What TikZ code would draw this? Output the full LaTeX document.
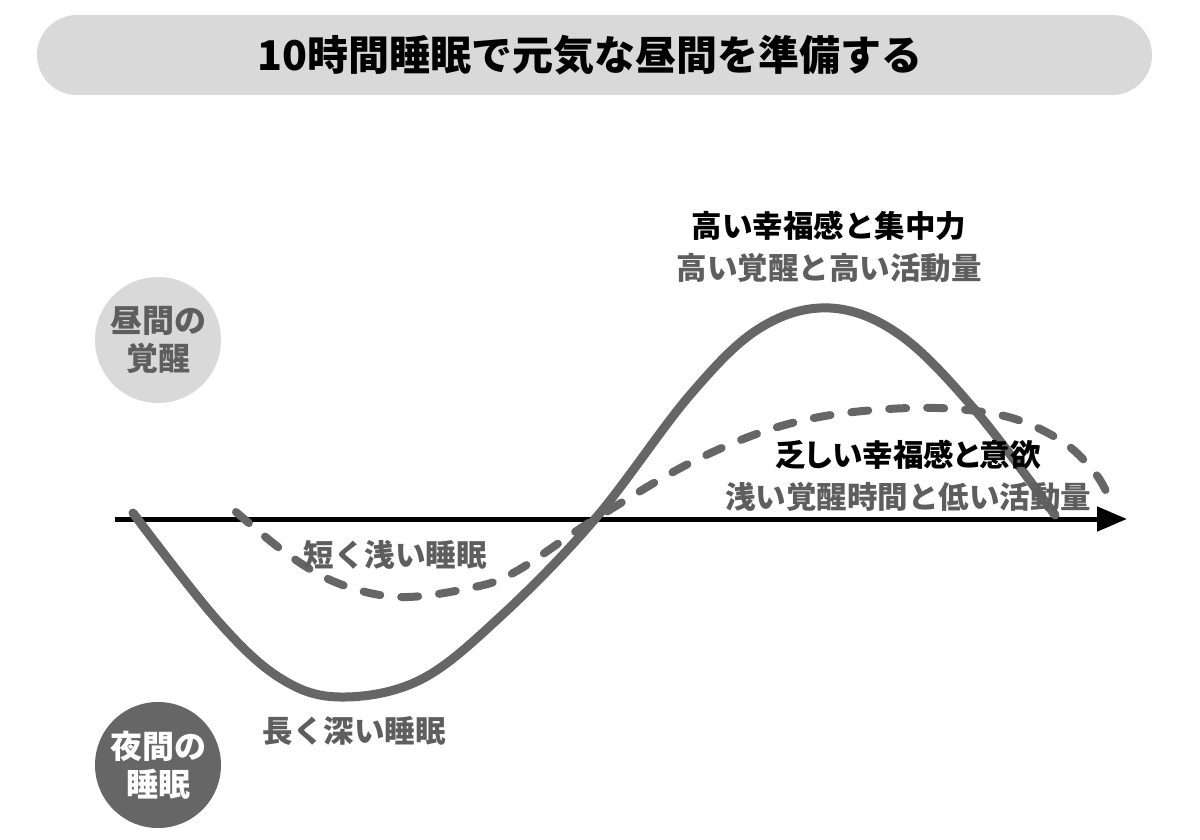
\documentclass[tikz,border=0pt]{standalone}
\usepackage{fontspec}
\usetikzlibrary{arrows.meta}
\newfontfamily\cjk{Noto Sans CJK JP}
\definecolor{curvegray}{HTML}{666666}
\definecolor{lightgray}{HTML}{D9D9D9}
\definecolor{textgray}{HTML}{5E5E5E}
\begin{document}
\begin{tikzpicture}[x=1pt,y=-1pt,
  lbl/.style={font=\cjk\bfseries\fontsize{30.5}{36}\selectfont, inner sep=0pt},
  graylbl/.style={lbl, text=textgray},
  blacklbl/.style={lbl, text=black},
  badge/.style={circle, minimum size=126pt, inner sep=0pt, align=center,
     font=\cjk\bfseries\fontsize{32}{38}\selectfont},
  solidcurve/.style={curvegray, line width=9pt, line cap=round},
  dashcurve/.style={curvegray, line width=8pt, line cap=round, dash pattern=on 17pt off 21pt}
]
\useasboundingbox[fill=white] (0,0) rectangle (1200,840);
% banner
\node[fill=lightgray, rounded corners=40pt, minimum width=1115pt, minimum height=80pt, inner sep=0pt] (banner) at (594.5,55) {};
\node[font=\cjk\bfseries\fontsize{41}{46}\selectfont, inner sep=0pt] (title) at (590,55) {10時間睡眠で元気な昼間を準備する};
% badges
\node[badge, fill=lightgray, text=textgray] (day) at (158,340) {昼間の\\覚醒};
\node[badge, fill=curvegray, text=white] (night) at (158,765) {夜間の\\睡眠};
% axis
\coordinate (axs) at (115,519);
\coordinate (axe) at (1127,519);
\draw[line width=5pt, -{Triangle[length=30pt,width=24pt]}] (axs) -- (axe);
% solid curve
\draw[solidcurve] plot[smooth, tension=0.6] coordinates {
  (133,513) (217,620) (280,678) (340,697) (420,680) (500,617) (595,519)
  (690,395) (760,328) (830,308) (900,335) (975,410) (1055,515)};
% dashed curve
\draw[dashcurve] plot[smooth, tension=0.6] coordinates {
  (236,512) (290,556) (340,584) (400,597) (470,588) (515,572) (595,519)
  (700,458) (800,421) (910,408) (1000,415) (1060,440) (1095,473) (1110,500)};
% labels
\node[blacklbl] (hi1) at (829,226) {高い幸福感と集中力};
\node[graylbl] (hi2) at (829,268) {高い覚醒と高い活動量};
\node[blacklbl] (lo1) at (908,455) {\addfontfeatures{RawFeature=+palt}乏しい幸福感と意欲};
\node[graylbl] (lo2) at (908,497) {浅い覚醒時間と低い活動量};
\node[graylbl] (sh) at (395,555) {短く浅い睡眠};
\node[graylbl] (lg) at (354,731) {長く深い睡眠};
\end{tikzpicture}
\end{document}
